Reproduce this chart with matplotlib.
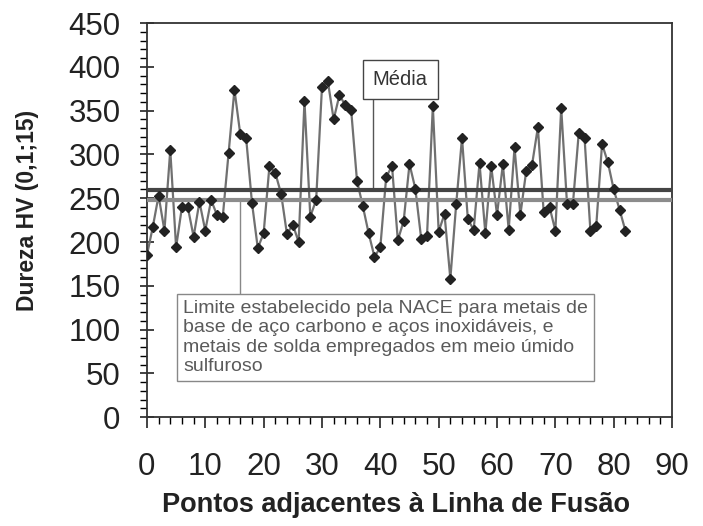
import numpy as np
import matplotlib
matplotlib.use("Agg")
import matplotlib.pyplot as plt
from matplotlib.ticker import MultipleLocator

plt.rcParams['font.family'] = ['Liberation Sans', 'DejaVu Sans']

# hardness profile (point index 0..82)
hardness = [185, 217, 253, 213, 305, 194, 240, 240, 206, 246,
            213, 248, 231, 229, 302, 374, 323, 319, 245, 193,
            210, 287, 279, 255, 209, 220, 200, 361, 229, 248,
            377, 384, 340, 368, 356, 351, 270, 241, 210, 183,
            194, 274, 287, 202, 224, 289, 261, 204, 207, 355,
            212, 232, 158, 243, 319, 226, 214, 290, 210, 287,
            231, 289, 214, 308, 231, 281, 288, 331, 234, 240,
            213, 353, 243, 243, 324, 319, 213, 218, 312, 291,
            260, 237, 213]
points = list(range(len(hardness)))
nace_limit = 248
mean_hv = np.mean(hardness)

nace_text = ("Limite estabelecido pela NACE para metais de\n"
             "base de aço carbono e aços inoxidáveis, e\n"
             "metais de solda empregados em meio úmido\n"
             "sulfuroso")

fig = plt.figure(figsize=(7.03, 5.26), dpi=100)
ax = fig.add_axes([0.209, 0.207, 0.747, 0.749])

ax.plot(points, hardness, color='#707070', lw=1.6, zorder=2)
ax.axhline(mean_hv, color='#444444', lw=3, zorder=3)
ax.axhline(nace_limit, color='#8c8c8c', lw=3, zorder=3)
ax.plot(points, hardness, ls='none', marker='D', ms=5.5, color='#222222', zorder=4)

# "Média" callout
ax.plot([38.8, 38.8], [mean_hv, 368], color='#555555', lw=1, zorder=1)
ax.text(43.4, 386, "Média", ha='center', va='center', fontsize=14.5, color='#333333',
        bbox=dict(boxstyle='square,pad=0.5', fc='white', ec='#444444', lw=1), zorder=5)

# NACE callout
ax.plot([16, 16], [nace_limit, 140], color='#888888', lw=1, zorder=1)
ax.text(6.2, 91, nace_text, ha='left', va='center', fontsize=14, color='#5a5a5a',
        linespacing=1.2,
        bbox=dict(boxstyle='square,pad=0.3', fc='white', ec='#888888', lw=1), zorder=5)

ax.set_xlim(0, 90)
ax.set_ylim(0, 450)
ax.xaxis.set_major_locator(MultipleLocator(10))
ax.xaxis.set_minor_locator(MultipleLocator(2))
ax.yaxis.set_major_locator(MultipleLocator(50))
ax.yaxis.set_minor_locator(MultipleLocator(10))

ax.tick_params(axis='x', which='major', direction='out', length=8, width=1.2,
               pad=17, labelsize=22.5, colors='#222222')
ax.tick_params(axis='x', which='minor', direction='out', length=5, width=1)
ax.tick_params(axis='y', which='major', direction='inout', length=10, width=1.2,
               pad=14, labelsize=22.5, colors='#222222')
ax.tick_params(axis='y', which='minor', direction='out', length=5, width=1)

for s in ax.spines.values():
    s.set_color('#333333')
    s.set_linewidth(1.3)

ax.set_xlabel("Pontos adjacentes à Linha de Fusão", fontsize=19.5, fontweight='bold',
              color='#222222')
ax.set_ylabel("Dureza HV (0,1;15)", fontsize=16.5, fontweight='bold',
              color='#222222')
ax.xaxis.set_label_coords(0.474, -0.19)
ax.yaxis.set_label_coords(-0.205, 0.525)

fig.savefig("out.png", dpi=100)
